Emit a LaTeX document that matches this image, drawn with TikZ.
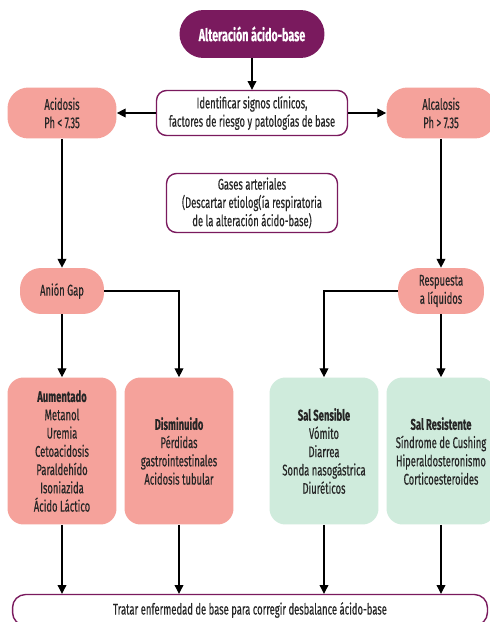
\documentclass[tikz,border=0pt]{standalone}
\usepackage{fontspec}
\setmainfont{Fira Sans}[FakeStretch=0.61, FakeBold=0.35]
\usetikzlibrary{arrows.meta}
\definecolor{morado}{HTML}{7A1A5E}
\definecolor{salmon}{HTML}{F5A29B}
\definecolor{verde}{HTML}{CFEBDC}
\begin{document}
\begin{tikzpicture}[x=0.02cm, y=-0.02cm, every node/.style={font=\fontsize{8.8}{10.4}\selectfont, text=black!85, align=center, inner sep=1pt},
    pill/.style={fill=salmon, rounded corners=0.42cm, minimum height=0.96cm},
    marco/.style={draw=morado, line width=0.8pt, fill=white, rounded corners=0.2cm},
    caja/.style={rounded corners=0.32cm, minimum width=2.18cm, minimum height=2.94cm},
    flecha/.style={-{Triangle[width=5pt,length=5pt]}, line width=0.6pt}]
      \useasboundingbox (0,0) rectangle (490,622);
      \fill[white] (0,0) rectangle (490,622);

      % Inicio
      \node[fill=morado, text=white, font=\fontsize{10}{11}\selectfont\bfseries, rounded corners=0.48cm, minimum width=2.9cm, minimum height=0.96cm] (inicio) at (252,34) {Alteración ácido-base};
      \node[marco, minimum width=3.82cm, minimum height=0.9cm] (signos) at (252,113) {Identificar signos clínicos,\\factores de riesgo y patologías de base};

      % Acidosis y alcalosis
      \node[pill, minimum width=2.18cm, minimum height=1.02cm] (acidosis) at (62,113) {Acidosis\\Ph < 7.35};
      \node[pill, minimum width=2.18cm, minimum height=1.02cm] (alcalosis) at (441,113) {Alcalosis\\Ph > 7.35};
      \node[marco, minimum width=3.42cm, minimum height=1.18cm] (gases) at (252,203) {Gases arteriales\\(Descartar etiolog(ía respiratoria\\de la alteración ácido-base)};

      \node[pill, minimum width=1.68cm, minimum height=0.92cm] (anion) at (62,291) {Anión Gap};
      \node[pill, minimum width=1.72cm, minimum height=0.92cm] (respuesta) at (441,291) {Respuesta\\a líquidos};

      % Cajas de causas
      \node[caja, fill=salmon] (aumentado) at (62,451) {\textbf{Aumentado}\\Metanol\\Uremia\\Cetoacidosis\\Paraldehído\\Isoniazida\\Ácido Láctico};
      \node[caja, fill=salmon] (disminuido) at (179,451) {\textbf{Disminuido}\\Pérdidas\\gastrointestinales\\Acidosis tubular};
      \node[caja, fill=verde] (sensible) at (324,451) {\textbf{Sal Sensible}\\Vómito\\Diarrea\\Sonda nasogástrica\\Diuréticos};
      \node[caja, fill=verde] (resistente) at (441,451) {\textbf{Sal Resistente}\\Síndrome de Cushing\\Hiperaldosteronismo\\Corticoesteroides};

      \node[marco, rounded corners=0.26cm, minimum width=9.5cm, minimum height=0.62cm] (tratar) at (250,610) {Tratar enfermedad de base para corregir desbalance ácido-base};

      % Flechas
      \draw[flecha] (inicio) -- (signos);
      \draw[flecha] (signos) -- (acidosis);
      \draw[flecha] (signos) -- (alcalosis);
      \draw[flecha] (acidosis) -- (anion);
      \draw[flecha] (alcalosis) -- (respuesta);
      \draw[flecha] (anion) -- (aumentado);
      \draw[flecha] (anion.east) -| (disminuido);
      \draw[flecha] (respuesta.west) -| (sensible);
      \draw[flecha] (respuesta) -- (resistente);
      \foreach \caso in {aumentado, disminuido, sensible, resistente}
        \draw[flecha] (\caso) -- (\caso |- tratar.north);
    \end{tikzpicture}
\end{document}
